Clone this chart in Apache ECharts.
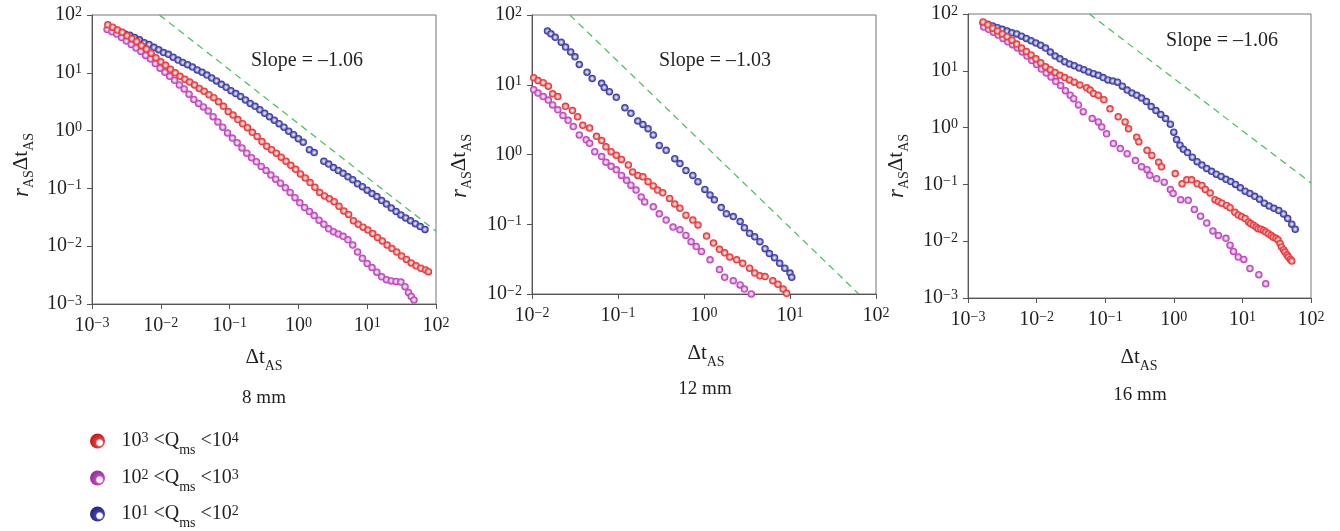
<!DOCTYPE html>
<html>
<head>
<meta charset="utf-8">
<script src="https://cdn.jsdelivr.net/npm/echarts/dist/echarts.min.js"></script>
<style>
  html, body { margin: 0; padding: 0; background: #fff; }
  #chart { width: 1340px; height: 531px; }
</style>
</head>
<body>
<div id="chart"></div>
<script>
// all values are log10 readings: x = log10(dt_AS), y = log10(r_AS * dt_AS)

// 8 mm
const mm8BlueX = [-2.73,-2.66,-2.59,-2.52,-2.45,-2.38,-2.31,-2.24,-2.17,-2.10,-2.03,-1.96,-1.89,-1.82,-1.75,-1.68,-1.61,-1.54,-1.47,-1.40,-1.33,-1.26,-1.19,-1.12,-1.05,-0.98,-0.91,-0.84,-0.77,-0.70,-0.63,-0.56,-0.49,-0.42,-0.35,-0.28,-0.21,-0.14,-0.07,0.00,0.07,0.16,0.23,0.37,0.44,0.51,0.58,0.65,0.72,0.79,0.86,0.93,1.00,1.07,1.14,1.21,1.28,1.35,1.42,1.49,1.56,1.63,1.70,1.77,1.84];
const mm8BlueY = [1.77,1.74,1.70,1.67,1.65,1.61,1.57,1.52,1.49,1.44,1.40,1.35,1.32,1.27,1.22,1.18,1.14,1.10,1.05,1.01,0.96,0.91,0.86,0.80,0.75,0.69,0.64,0.59,0.53,0.47,0.42,0.36,0.30,0.24,0.18,0.12,0.06,-0.01,-0.07,-0.14,-0.20,-0.33,-0.38,-0.53,-0.58,-0.64,-0.69,-0.74,-0.80,-0.85,-0.92,-0.97,-1.03,-1.09,-1.14,-1.21,-1.27,-1.34,-1.40,-1.46,-1.51,-1.56,-1.61,-1.66,-1.71];
const mm8RedX = [-2.77,-2.70,-2.63,-2.56,-2.49,-2.42,-2.35,-2.28,-2.21,-2.14,-2.07,-2.00,-1.93,-1.86,-1.79,-1.72,-1.65,-1.58,-1.51,-1.44,-1.37,-1.30,-1.23,-1.16,-1.09,-1.02,-0.95,-0.88,-0.81,-0.74,-0.67,-0.60,-0.53,-0.46,-0.39,-0.32,-0.25,-0.18,-0.11,-0.04,0.03,0.10,0.17,0.24,0.31,0.38,0.45,0.52,0.59,0.66,0.73,0.80,0.87,0.94,1.01,1.08,1.15,1.22,1.29,1.36,1.43,1.50,1.57,1.64,1.71,1.78,1.85,1.89];
const mm8RedY = [1.83,1.79,1.74,1.70,1.64,1.59,1.54,1.47,1.41,1.34,1.26,1.19,1.13,1.06,1.00,0.94,0.89,0.84,0.79,0.73,0.68,0.62,0.57,0.50,0.42,0.33,0.27,0.19,0.12,0.05,-0.03,-0.10,-0.19,-0.27,-0.33,-0.39,-0.46,-0.53,-0.60,-0.67,-0.75,-0.82,-0.90,-0.98,-1.07,-1.13,-1.18,-1.23,-1.31,-1.39,-1.45,-1.56,-1.62,-1.67,-1.72,-1.78,-1.85,-1.91,-1.98,-2.04,-2.10,-2.17,-2.23,-2.29,-2.34,-2.38,-2.41,-2.44];
const mm8MagX = [-2.78,-2.71,-2.64,-2.57,-2.50,-2.43,-2.36,-2.29,-2.22,-2.15,-2.08,-2.01,-1.94,-1.87,-1.80,-1.73,-1.66,-1.59,-1.52,-1.45,-1.38,-1.31,-1.24,-1.17,-1.10,-1.03,-0.96,-0.89,-0.82,-0.75,-0.68,-0.61,-0.54,-0.47,-0.40,-0.33,-0.26,-0.19,-0.12,-0.05,0.02,0.09,0.16,0.23,0.30,0.37,0.44,0.51,0.58,0.65,0.72,0.79,0.86,0.93,1.00,1.07,1.14,1.21,1.28,1.35,1.42,1.49,1.55,1.60,1.64,1.68];
const mm8MagY = [1.75,1.71,1.67,1.61,1.55,1.49,1.43,1.37,1.30,1.24,1.16,1.08,1.01,0.94,0.87,0.79,0.72,0.63,0.54,0.47,0.41,0.34,0.24,0.15,0.06,-0.04,-0.13,-0.21,-0.30,-0.39,-0.47,-0.54,-0.62,-0.69,-0.77,-0.84,-0.91,-0.99,-1.07,-1.16,-1.25,-1.33,-1.40,-1.47,-1.55,-1.62,-1.70,-1.75,-1.79,-1.83,-1.89,-1.98,-2.10,-2.21,-2.30,-2.37,-2.45,-2.53,-2.58,-2.60,-2.61,-2.62,-2.70,-2.80,-2.87,-2.93];

// 12 mm
const mm12BlueX = [-1.82,-1.78,-1.73,-1.66,-1.61,-1.55,-1.50,-1.45,-1.36,-1.30,-1.19,-1.16,-1.10,-1.02,-0.92,-0.85,-0.77,-0.71,-0.65,-0.59,-0.52,-0.44,-0.34,-0.28,-0.21,-0.13,-0.07,0.01,0.07,0.12,0.20,0.26,0.34,0.42,0.47,0.53,0.59,0.65,0.71,0.76,0.82,0.88,0.94,1.00,1.02];
const mm12BlueY = [1.77,1.73,1.68,1.61,1.54,1.47,1.40,1.29,1.18,1.09,1.02,0.96,0.90,0.82,0.67,0.59,0.48,0.43,0.37,0.28,0.13,0.06,-0.06,-0.13,-0.23,-0.30,-0.39,-0.50,-0.58,-0.65,-0.76,-0.85,-0.89,-0.96,-1.05,-1.13,-1.18,-1.25,-1.35,-1.42,-1.48,-1.56,-1.63,-1.70,-1.76];
const mm12RedX = [-1.98,-1.93,-1.87,-1.81,-1.76,-1.70,-1.61,-1.53,-1.47,-1.41,-1.33,-1.25,-1.19,-1.14,-1.08,-1.02,-0.96,-0.88,-0.83,-0.77,-0.71,-0.65,-0.59,-0.54,-0.48,-0.40,-0.34,-0.28,-0.21,-0.13,-0.07,0.03,0.11,0.18,0.24,0.30,0.38,0.45,0.53,0.59,0.65,0.71,0.80,0.86,0.92,0.96];
const mm12RedY = [1.10,1.06,1.03,0.98,0.87,0.83,0.69,0.63,0.54,0.42,0.38,0.26,0.20,0.11,0.04,-0.01,-0.07,-0.15,-0.25,-0.30,-0.32,-0.39,-0.45,-0.51,-0.55,-0.63,-0.71,-0.77,-0.87,-0.94,-1.01,-1.17,-1.27,-1.36,-1.41,-1.47,-1.51,-1.56,-1.63,-1.70,-1.74,-1.75,-1.81,-1.86,-1.93,-1.99];
const mm12MagX = [-1.98,-1.93,-1.87,-1.81,-1.76,-1.70,-1.64,-1.58,-1.52,-1.45,-1.37,-1.33,-1.27,-1.19,-1.14,-1.08,-1.02,-0.96,-0.90,-0.85,-0.79,-0.73,-0.69,-0.59,-0.52,-0.44,-0.36,-0.28,-0.21,-0.15,-0.09,-0.03,0.07,0.18,0.24,0.34,0.42,0.47,0.55];
const mm12MagY = [0.93,0.88,0.83,0.78,0.71,0.64,0.56,0.49,0.40,0.28,0.21,0.16,0.04,-0.03,-0.11,-0.17,-0.22,-0.30,-0.37,-0.44,-0.51,-0.61,-0.68,-0.75,-0.85,-0.94,-1.04,-1.08,-1.16,-1.25,-1.32,-1.39,-1.51,-1.65,-1.76,-1.81,-1.87,-1.93,-2.00];

// 16 mm
const mm16BlueX = [-2.78,-2.71,-2.64,-2.57,-2.50,-2.43,-2.36,-2.29,-2.22,-2.15,-2.08,-2.01,-1.94,-1.87,-1.80,-1.73,-1.66,-1.59,-1.52,-1.45,-1.38,-1.31,-1.24,-1.17,-1.10,-1.03,-0.96,-0.89,-0.82,-0.75,-0.68,-0.61,-0.54,-0.47,-0.40,-0.33,-0.26,-0.19,-0.12,-0.05,0.00,0.04,0.09,0.14,0.20,0.27,0.34,0.41,0.48,0.55,0.62,0.69,0.76,0.83,0.90,0.97,1.04,1.11,1.18,1.25,1.32,1.39,1.46,1.53,1.60,1.66,1.72,1.77];
const mm16BlueY = [1.84,1.82,1.79,1.76,1.73,1.70,1.67,1.65,1.61,1.57,1.53,1.49,1.45,1.40,1.33,1.26,1.21,1.16,1.12,1.09,1.05,1.02,0.98,0.95,0.92,0.88,0.84,0.82,0.80,0.73,0.66,0.61,0.57,0.52,0.46,0.37,0.30,0.23,0.16,0.06,-0.08,-0.21,-0.31,-0.38,-0.44,-0.52,-0.60,-0.66,-0.72,-0.77,-0.82,-0.86,-0.91,-0.95,-1.00,-1.06,-1.12,-1.16,-1.21,-1.26,-1.33,-1.38,-1.42,-1.46,-1.52,-1.60,-1.70,-1.79];
const mm16RedX = [-2.78,-2.71,-2.64,-2.57,-2.50,-2.43,-2.36,-2.29,-2.22,-2.15,-2.08,-2.01,-1.94,-1.87,-1.80,-1.73,-1.66,-1.59,-1.52,-1.45,-1.37,-1.27,-1.22,-1.17,-1.10,-1.02,-0.93,-0.81,-0.71,-0.66,-0.54,-0.51,-0.39,-0.32,-0.22,-0.18,0.02,0.12,0.19,0.26,0.34,0.41,0.46,0.53,0.60,0.65,0.70,0.77,0.82,0.89,0.94,0.99,1.04,1.09,1.12,1.16,1.20,1.23,1.27,1.31,1.34,1.38,1.42,1.45,1.49,1.52,1.55,1.57,1.60,1.62,1.65,1.67,1.70,1.72];
const mm16RedY = [1.86,1.81,1.75,1.70,1.65,1.60,1.54,1.47,1.40,1.34,1.28,1.21,1.14,1.07,1.02,0.97,0.92,0.88,0.84,0.80,0.75,0.70,0.66,0.60,0.57,0.49,0.33,0.19,0.10,-0.02,-0.17,-0.25,-0.40,-0.49,-0.61,-0.69,-0.81,-0.99,-0.92,-0.92,-0.99,-1.02,-1.09,-1.15,-1.27,-1.30,-1.33,-1.37,-1.41,-1.49,-1.54,-1.57,-1.60,-1.66,-1.69,-1.72,-1.75,-1.78,-1.79,-1.81,-1.84,-1.87,-1.90,-1.93,-1.95,-1.98,-2.04,-2.10,-2.15,-2.19,-2.24,-2.28,-2.32,-2.35];
const mm16MagX = [-2.77,-2.70,-2.63,-2.56,-2.49,-2.42,-2.35,-2.28,-2.21,-2.14,-2.07,-2.00,-1.93,-1.86,-1.79,-1.72,-1.65,-1.58,-1.51,-1.46,-1.39,-1.32,-1.19,-1.10,-1.05,-0.98,-0.88,-0.78,-0.68,-0.56,-0.47,-0.39,-0.35,-0.25,-0.14,-0.05,-0.01,0.10,0.21,0.30,0.39,0.48,0.57,0.65,0.76,0.82,0.87,0.94,1.02,1.11,1.24,1.34];
const mm16MagY = [1.77,1.73,1.68,1.63,1.57,1.51,1.46,1.40,1.33,1.26,1.18,1.11,1.03,0.96,0.89,0.81,0.74,0.65,0.57,0.51,0.40,0.28,0.16,0.10,0.01,-0.11,-0.28,-0.37,-0.46,-0.58,-0.69,-0.74,-0.84,-0.90,-0.96,-1.09,-1.16,-1.27,-1.28,-1.44,-1.56,-1.68,-1.82,-1.90,-1.95,-2.07,-2.18,-2.28,-2.32,-2.48,-2.59,-2.75];

// dashed reference lines (end points, log10)
const guide8X = [-2.02, 2], guide8Y = [2, -1.74];
const guide12X = [-1.56, 1.80], guide12Y = [2, -2];
const guide16X = [-1.23, 2], guide16Y = [2, -0.975];

// axis decades
const xRange8 = [-3, 2], yRange8 = [-3, 2];
const xRange12 = [-2, 2], yRange12 = [-2, 2];
const xRange16 = [-3, 2], yRange16 = [-3, 2];

const captions = ['8 mm', '12 mm', '16 mm'];
const slopes = ['Slope = \u20131.06', 'Slope = \u20131.03', 'Slope = \u20131.06'];
const qRanges = [[3, 4], [2, 3], [1, 2]];

const serif = '"Liberation Serif", "DejaVu Serif", serif';
const ink = '#231f20';

const palette = [
  { base: '#e63a3c', light: '#fbb9b9', dark: '#c8201f' },
  { base: '#bd48bb', light: '#f0c2ee', dark: '#a0309e' },
  { base: '#3e3ea6', light: '#b4b4e4', dark: '#2a2a8a' }
];

function dot(c) {
  return { type: 'radial', x: 0.5, y: 0.5, r: 0.5,
    colorStops: [{ offset: 0, color: '#fff' }, { offset: 0.35, color: c.light }, { offset: 0.8, color: c.base }, { offset: 1, color: c.base }] };
}
function ball(c) {
  return { type: 'radial', x: 0.64, y: 0.62, r: 0.55,
    colorStops: [{ offset: 0, color: '#fff' }, { offset: 0.32, color: '#fff' }, { offset: 0.5, color: c.base }, { offset: 1, color: c.dark }] };
}

const legendNames = qRanges.map(q => 'Q' + q[0] + q[1]);
function legendLabel(name) {
  const q = qRanges[legendNames.indexOf(name)];
  return '{b|10}{sup|' + q[0] + '}{b| <Q}{sub|ms}{b| <10}{sup|' + q[1] + '}';
}

function expLabel(v) {
  const e = Math.round(v);
  return '{b|10}{s|' + (e < 0 ? '\u2212' + (-e) : e) + '}';
}

const tickRich = {
  b: { fontFamily: serif, fontSize: 20, lineHeight: 20, verticalAlign: 'top', color: ink },
  s: { fontFamily: serif, fontSize: 14, lineHeight: 14, verticalAlign: 'top', color: ink }
};
const nameRich = {
  b: { fontFamily: serif, fontSize: 21, lineHeight: 21, verticalAlign: 'top', fill: ink, color: ink },
  i: { fontFamily: serif, fontStyle: 'italic', fontSize: 23, lineHeight: 21, verticalAlign: 'top', fill: ink, color: ink },
  s: { fontFamily: serif, fontSize: 14, lineHeight: 14, verticalAlign: 'top', padding: [12, 0, 0, 0], fill: ink, color: ink }
};
const legendRich = {
  b: { fontFamily: serif, fontSize: 20, lineHeight: 20, verticalAlign: 'top', color: ink },
  sup: { fontFamily: serif, fontSize: 14, lineHeight: 14, verticalAlign: 'top', color: ink },
  sub: { fontFamily: serif, fontSize: 14, lineHeight: 14, verticalAlign: 'top', padding: [12, 0, 0, 0], color: ink }
};

const grids = [
  { left: 92, top: 15, width: 344, height: 289 },
  { left: 532, top: 15, width: 344, height: 279 },
  { left: 968, top: 14, width: 343, height: 284 }
];
const ranges = [[xRange8, yRange8], [xRange12, yRange12], [xRange16, yRange16]];

function axisCommon(range, margin) {
  return {
    type: 'value', min: range[0], max: range[1], interval: 1,
    axisLine: { show: true, onZero: false, lineStyle: { color: '#555', width: 1 } },
    axisTick: { show: true, inside: false, length: 5, lineStyle: { color: '#555' } },
    splitLine: { show: false },
    axisLabel: { formatter: expLabel, rich: tickRich, margin: margin, showMinLabel: true, showMaxLabel: true }
  };
}

const panelData = [
  { blue: [mm8BlueX, mm8BlueY], red: [mm8RedX, mm8RedY], mag: [mm8MagX, mm8MagY], guide: [guide8X, guide8Y] },
  { blue: [mm12BlueX, mm12BlueY], red: [mm12RedX, mm12RedY], mag: [mm12MagX, mm12MagY], guide: [guide12X, guide12Y] },
  { blue: [mm16BlueX, mm16BlueY], red: [mm16RedX, mm16RedY], mag: [mm16MagX, mm16MagY], guide: [guide16X, guide16Y] }
];

function pairs(xs, ys) { return xs.map((x, i) => [x, ys[i]]); }

const series = [];
panelData.forEach((p, k) => {
  series.push({
    type: 'line', xAxisIndex: k, yAxisIndex: k, data: pairs(p.guide[0], p.guide[1]),
    symbol: 'none', silent: true, z: 1,
    lineStyle: { color: '#46be5c', width: 1.2, type: [7, 5] }
  });
  [['blue', 2], ['mag', 1], ['red', 0]].forEach(([key, ci]) => {
    series.push({
      type: 'scatter', name: legendNames[ci], xAxisIndex: k, yAxisIndex: k,
      data: pairs(p[key][0], p[key][1]), symbolSize: 7.5, z: 3,
      itemStyle: { color: dot(palette[ci]), opacity: 1, borderWidth: 0 }
    });
  });
});

const graphic = [];
const yNamePos = [[21, 165], [459, 166], [896, 166]];
const xNamePos = [[264, 347], [706, 343], [1139, 347]];
const capPos = [[264, 398], [705, 389], [1140, 395]];
const slopePos = [[307, 61], [715, 61], [1222, 41]];
for (let k = 0; k < 3; k++) {
  graphic.push({ type: 'text', x: yNamePos[k][0], y: yNamePos[k][1], rotation: Math.PI / 2,
    style: { text: '{i|r}{s|AS}{b|\u0394t}{s|AS}', rich: nameRich, align: 'center', verticalAlign: 'middle' } });
  graphic.push({ type: 'text', x: xNamePos[k][0], y: xNamePos[k][1],
    style: { text: '{b|\u0394t}{s|AS}', rich: nameRich, align: 'center', verticalAlign: 'top' } });
  graphic.push({ type: 'text', x: capPos[k][0], y: capPos[k][1],
    style: { text: captions[k], font: '19px ' + serif, fill: ink, align: 'center', verticalAlign: 'middle' } });
  graphic.push({ type: 'text', x: slopePos[k][0], y: slopePos[k][1],
    style: { text: slopes[k], font: '20px ' + serif, fill: ink, align: 'center', verticalAlign: 'middle' } });
}

// one legend per row so the three entries stack in a single column
const legendTops = [426, 463, 499];
const legends = legendNames.map((n, i) => ({
  orient: 'vertical', left: 85, top: legendTops[i], itemWidth: 38, itemHeight: 15,
  icon: 'circle', selectedMode: false,
  data: [{ name: n, itemStyle: { color: ball(palette[i]) } }],
  formatter: legendLabel,
  textStyle: { rich: legendRich }
}));

const chart = echarts.init(document.getElementById('chart'), null, { renderer: 'canvas' });
chart.setOption({
  animation: false,
  backgroundColor: '#fff',
  grid: grids.map(g => Object.assign({ show: true, borderColor: '#777', borderWidth: 1, outerBoundsMode: 'none', containLabel: false }, g)),
  xAxis: ranges.map((r, k) => Object.assign(axisCommon(r[0], 12), { gridIndex: k, position: 'bottom' })),
  yAxis: ranges.map((r, k) => Object.assign(axisCommon(r[1], 10), { gridIndex: k, position: 'left' })),
  legend: legends,
  graphic: graphic,
  series: series
});
</script>
</body>
</html>
